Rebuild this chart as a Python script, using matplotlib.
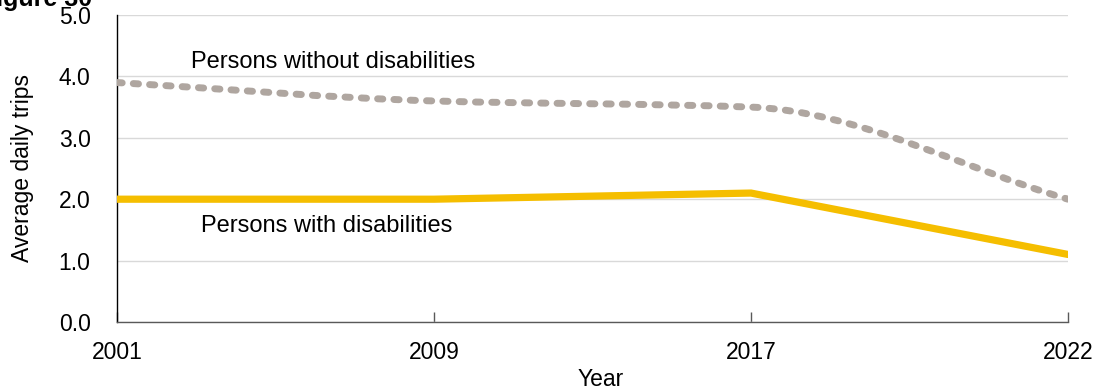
import matplotlib
matplotlib.use("Agg")
import matplotlib.pyplot as plt
from matplotlib.path import Path
from matplotlib.patches import PathPatch
import numpy as np

plt.rcParams['font.family'] = ['Liberation Sans', 'DejaVu Sans']

# Data
years = ["2001", "2009", "2017", "2022"]
without_disab = [3.9, 3.6, 3.5, 2.0]
with_disab = [2.0, 2.0, 2.1, 1.1]
y_ticks = [0.0, 1.0, 2.0, 3.0, 4.0, 5.0]

GRAY = "#AFA6A0"
GOLD = "#F5BE00"

fig = plt.figure(figsize=(10.97, 3.87), dpi=100)
ax = fig.add_axes([117 / 1097, 1 - 322 / 387, (1068 - 117) / 1097, (322 - 15) / 387])

x = np.arange(len(years))


def smooth_path(xs, ys):
    """Monotone cubic (Fritsch-Carlson) curve through the points, as Bezier segments."""
    xs = np.asarray(xs, float)
    ys = np.asarray(ys, float)
    h = np.diff(xs)
    d = np.diff(ys) / h
    n = len(xs)
    m = np.zeros(n)
    m[0], m[-1] = d[0], d[-1]
    for i in range(1, n - 1):
        if d[i - 1] * d[i] > 0:
            m[i] = 2 * d[i - 1] * d[i] / (d[i - 1] + d[i])
    verts = [(xs[0], ys[0])]
    codes = [Path.MOVETO]
    for i in range(n - 1):
        verts += [(xs[i] + h[i] / 3, ys[i] + m[i] * h[i] / 3),
                  (xs[i + 1] - h[i] / 3, ys[i + 1] - m[i + 1] * h[i] / 3),
                  (xs[i + 1], ys[i + 1])]
        codes += [Path.CURVE4] * 3
    return Path(verts, codes)


patch = PathPatch(smooth_path(x, without_disab), facecolor="none", edgecolor=GRAY,
                  linewidth=5.0, linestyle=(0, (0.75, 1.6)), capstyle="round",
                  transform=ax.transData, zorder=3)
ax.add_patch(patch)

ax.plot(x, with_disab, color=GOLD, linewidth=5.2, solid_capstyle="round",
        solid_joinstyle="miter", zorder=3)

ax.set_xlim(0, len(years) - 1)
ax.set_ylim(0, 5)
ax.set_xticks(x)
ax.set_xticklabels(years)
ax.set_yticks(y_ticks)
ax.set_yticklabels([f"{v:.1f}" for v in y_ticks])

ax.grid(axis="y", color="#D9D9D9", linewidth=1.0, zorder=0)
ax.set_axisbelow(True)

for s in ["top", "right"]:
    ax.spines[s].set_visible(False)
ax.spines["left"].set_color("#000000")
ax.spines["left"].set_linewidth(1.0)
ax.spines["bottom"].set_color("#595959")
ax.spines["bottom"].set_linewidth(1.0)

ax.tick_params(axis="x", direction="in", length=7, width=1.0, color="#595959",
               labelsize=16.5, pad=14, labelcolor="#000000")
ax.tick_params(axis="y", length=0, labelsize=16.5, pad=19, labelcolor="#000000")

ax.set_xlabel("Year", fontsize=16.5, labelpad=2.5)
ax.xaxis.label.set_x(0.509)
ax.set_ylabel("Average daily trips", fontsize=16.5, labelpad=18)

ax.text(0.233, 4.23, "Persons without disabilities", fontsize=17, ha="left", va="center")
ax.text(0.265, 1.56, "Persons with disabilities", fontsize=17, ha="left", va="center")

fig.text(92 / 1097, 1 - 6 / 387, "Figure 30", fontsize=18, fontweight="bold",
         ha="right", va="baseline")

fig.savefig("out.png", dpi=100)
